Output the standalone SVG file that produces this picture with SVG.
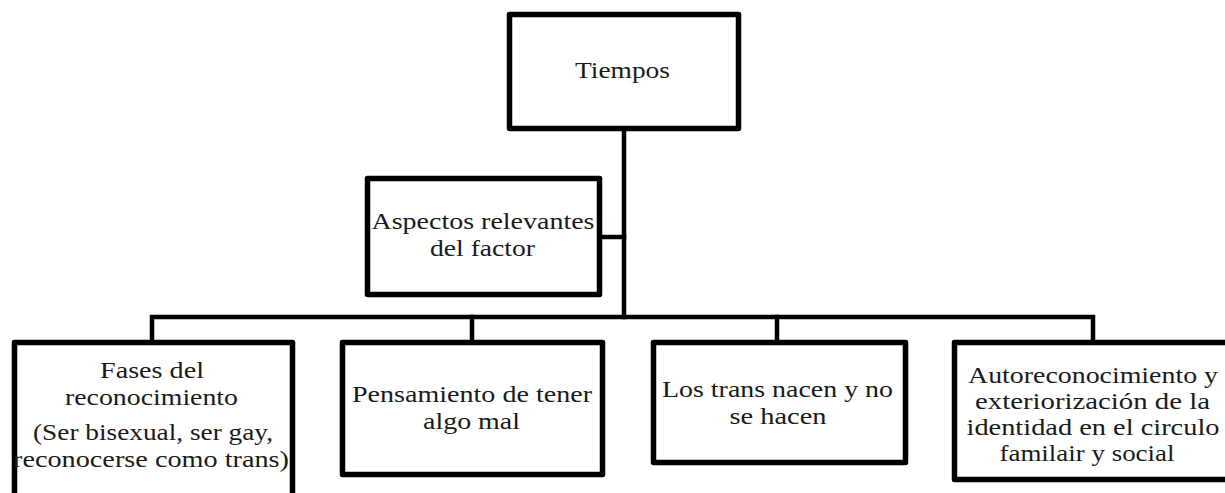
<svg xmlns="http://www.w3.org/2000/svg" width="1225" height="493" viewBox="0 0 1225 493">
<style>
.box{fill:#fff;stroke:#000;stroke-width:5.5;stroke-linejoin:round}
.ln{fill:none;stroke:#000;stroke-width:4.5;stroke-linecap:square}
.t{font-family:'Liberation Serif','DejaVu Serif',serif;font-size:23px;fill:#1a1a1a;text-anchor:middle}
</style>
<g id="connectors">
<path class="ln" d="M624,131 V317"/>
<path class="ln" d="M602,237 H624"/>
<path class="ln" d="M152,340 V317 H1093 V340"/>
<path class="ln" d="M472,317 V340"/>
<path class="ln" d="M777,317 V340"/>
</g>
<g id="tiempos">
<rect class="box" x="509.5" y="14.5" width="229" height="114"/>
<text class="t" x="622.5" y="78" textLength="95" lengthAdjust="spacingAndGlyphs">Tiempos</text>
</g>
<g id="aspectos">
<rect class="box" x="367.5" y="178.5" width="232" height="116"/>
<text class="t" x="483" y="229" textLength="223" lengthAdjust="spacingAndGlyphs">Aspectos relevantes</text>
<text class="t" x="482.5" y="256" textLength="105" lengthAdjust="spacingAndGlyphs">del factor</text>
</g>
<g id="fases">
<rect class="box" x="14.5" y="342.5" width="278" height="200"/>
<text class="t" x="152" y="378" textLength="104" lengthAdjust="spacingAndGlyphs">Fases del</text>
<text class="t" x="151.5" y="405" textLength="173" lengthAdjust="spacingAndGlyphs">reconocimiento</text>
<text class="t" x="153" y="440" textLength="240" lengthAdjust="spacingAndGlyphs">(Ser bisexual, ser gay,</text>
<text class="t" x="151" y="467" textLength="276" lengthAdjust="spacingAndGlyphs">reconocerse como trans)</text>
</g>
<g id="pensamiento">
<rect class="box" x="342.5" y="342.5" width="260" height="132"/>
<text class="t" x="472" y="402" textLength="240" lengthAdjust="spacingAndGlyphs">Pensamiento de tener</text>
<text class="t" x="471.5" y="429" textLength="97" lengthAdjust="spacingAndGlyphs">algo mal</text>
</g>
<g id="trans">
<rect class="box" x="653.5" y="342.5" width="252" height="120"/>
<text class="t" x="777.5" y="397" textLength="231" lengthAdjust="spacingAndGlyphs">Los trans nacen y no</text>
<text class="t" x="778" y="424" textLength="97" lengthAdjust="spacingAndGlyphs">se hacen</text>
</g>
<g id="autoreconocimiento">
<rect class="box" x="954.5" y="342.5" width="300" height="137"/>
<text class="t" x="1093" y="383" textLength="250" lengthAdjust="spacingAndGlyphs">Autoreconocimiento y</text>
<text class="t" x="1092.5" y="409" textLength="235" lengthAdjust="spacingAndGlyphs">exteriorización de la</text>
<text class="t" x="1093" y="435" textLength="253" lengthAdjust="spacingAndGlyphs">identidad en el circulo</text>
<text class="t" x="1087" y="461" textLength="175" lengthAdjust="spacingAndGlyphs">familair y social</text>
</g>
</svg>
